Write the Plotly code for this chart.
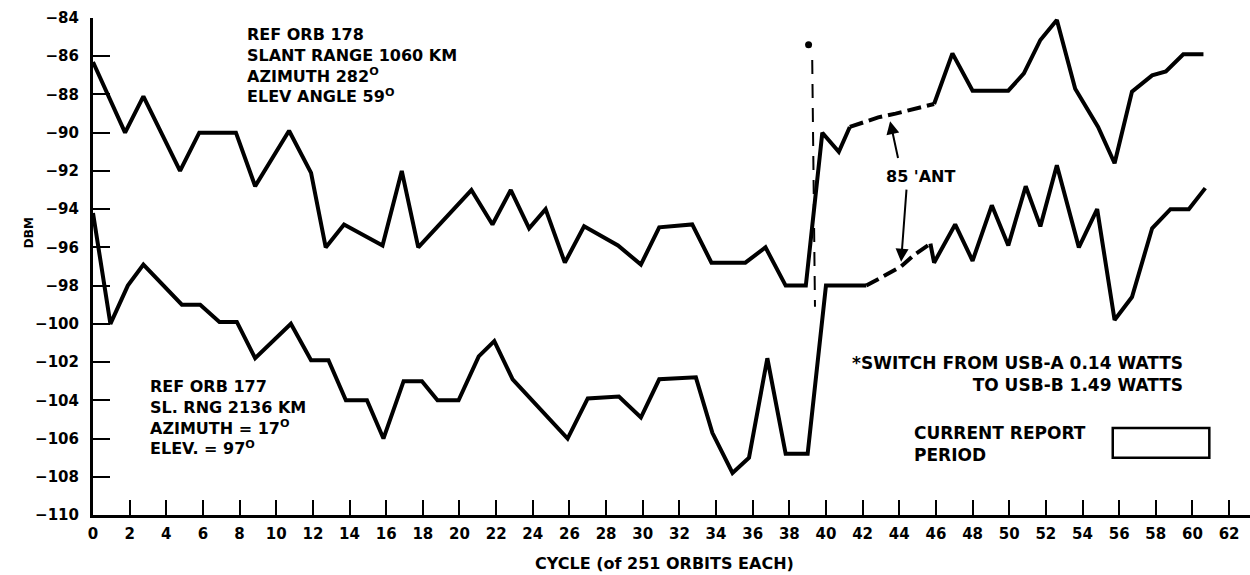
import plotly.graph_objects as go

# ---- REF ORB 178 (upper trace) ----
orb178_cycle = [0, 1.75, 2.75, 4.75, 5.8, 7.8, 8.85, 10.7, 11.9, 12.7, 13.7, 15.8, 16.85, 17.75,
                20.65, 21.8, 22.8, 23.8, 24.7, 25.75, 26.8, 28.65, 29.9, 30.9, 32.7, 33.75, 35.6,
                36.7, 37.8, 38.9, 39.8, 40.7, 41.3]
orb178_dbm = [-86.3, -90.0, -88.1, -92.0, -90.0, -90.0, -92.8, -89.9, -92.1, -96.0, -94.8, -95.9, -92.0, -96.0,
              -93.0, -94.8, -93.0, -95.0, -94.0, -96.8, -94.9, -95.9, -96.9, -94.95, -94.8, -96.8, -96.8,
              -96.0, -98.0, -98.0, -90.0, -91.0, -89.7]
orb178_gap_cycle = [41.3, 42.85, 43.8, 45.0, 45.9]
orb178_gap_dbm = [-89.7, -89.2, -89.0, -88.7, -88.5]
orb178_late_cycle = [45.9, 46.9, 48.0, 49.95, 50.8, 51.7, 52.6, 53.6, 54.85, 55.75, 56.7, 57.8, 58.55, 59.5, 60.6]
orb178_late_dbm = [-88.5, -85.85, -87.8, -87.8, -86.9, -85.15, -84.1, -87.7, -89.7, -91.6, -87.85, -87.0, -86.8,
                   -85.9, -85.9]

# ---- REF ORB 177 (lower trace) ----
orb177_cycle = [0, 0.95, 1.9, 2.75, 4.85, 5.85, 6.9, 7.85, 8.85, 10.8, 11.9, 12.85, 13.8, 14.95, 15.85,
                16.95, 17.95, 18.8, 19.95, 21.05, 21.9, 22.9, 25.9, 27.0, 28.7, 29.9, 30.9, 32.9, 33.8,
                34.9, 35.8, 36.8, 37.8, 39.0, 40.0, 42.2]
orb177_dbm = [-94.2, -100.0, -98.0, -96.9, -99.0, -99.0, -99.9, -99.9, -101.8, -100.0, -101.9, -101.9, -104.0,
              -104.0, -106.0, -103.0, -103.0, -104.0, -104.0, -101.7, -100.9, -102.9, -106.0, -103.9, -103.8,
              -104.9, -102.9, -102.8, -105.7, -107.8, -107.0, -101.8, -106.8, -106.8, -98.0, -98.0]
orb177_gap_cycle = [42.2, 43.2, 44.1, 44.8, 45.7]
orb177_gap_dbm = [-98.0, -97.5, -97.0, -96.4, -95.8]
orb177_late_cycle = [45.7, 45.9, 47.05, 48.0, 49.05, 49.95, 50.9, 51.7, 52.6, 53.8, 54.8, 55.75, 56.7, 57.8,
                     58.8, 59.8, 60.7]
orb177_late_dbm = [-95.8, -96.8, -94.8, -96.7, -93.8, -95.9, -92.8, -94.9, -91.7, -96.0, -94.0, -99.8, -98.6,
                   -95.0, -94.0, -94.0, -92.9]

# transmitter switch marker
switch_cycle = [39.25, 39.4]
switch_dbm = [-86.2, -99.1]
switch_dot = (39.05, -85.4)

x_ticks = list(range(0, 63, 2))
y_ticks = list(range(-110, -83, 2))

FONT = "DejaVu Sans"
INK = "black"

fig = go.Figure()

solid = dict(color=INK, width=4)
dashed = dict(color=INK, width=4, dash="14px,6px")

for cx, cy, ln in [
    (orb178_cycle, orb178_dbm, solid),
    (orb178_gap_cycle, orb178_gap_dbm, dashed),
    (orb178_late_cycle, orb178_late_dbm, solid),
    (orb177_cycle, orb177_dbm, solid),
    (orb177_gap_cycle, orb177_gap_dbm, dashed),
    (orb177_late_cycle, orb177_late_dbm, solid),
]:
    fig.add_trace(go.Scatter(x=cx, y=cy, mode="lines", line=ln, hoverinfo="skip"))

fig.add_trace(go.Scatter(x=switch_cycle, y=switch_dbm, mode="lines",
                         line=dict(color=INK, width=2, dash="14px,10px")))
fig.add_trace(go.Scatter(x=[switch_dot[0]], y=[switch_dot[1]], mode="markers",
                         marker=dict(color=INK, size=7)))

block_font = dict(family=FONT, size=16, color=INK, weight="bold")
note_font = dict(family=FONT, size=17, color=INK, weight="bold")

annotations = [
    dict(x=8.3, y=-84.25, xanchor="left", yanchor="top", align="left", font=block_font,
         text="REF ORB 178<br>SLANT RANGE 1060 KM<br>AZIMUTH 282<sup>O</sup><br>ELEV ANGLE 59<sup>O</sup>"),
    dict(x=3.0, y=-102.65, xanchor="left", yanchor="top", align="left", font=block_font,
         text="REF ORB 177<br>SL. RNG 2136 KM<br>AZIMUTH = 17<sup>O</sup><br>ELEV. = 97<sup>O</sup>"),
    dict(x=45.2, y=-92.3, xanchor="center", yanchor="middle", font=block_font, text="85 'ANT"),
    dict(x=59.6, y=-101.4, xanchor="right", yanchor="top", align="right", font=note_font,
         text="*SWITCH FROM USB-A 0.14 WATTS<br>TO USB-B 1.49 WATTS"),
    dict(x=44.7, y=-105.1, xanchor="left", yanchor="top", align="left", font=note_font,
         text="CURRENT REPORT<br>PERIOD"),
    dict(xref="paper", yref="paper", x=-0.0553, y=0.567, xanchor="center", yanchor="middle",
         textangle=-90, font=dict(family=FONT, size=12, color=INK, weight="bold"), text="DBM"),
    dict(xref="x", yref="paper", x=31.2, y=-0.0966, xanchor="center", yanchor="middle",
         font=dict(family=FONT, size=16, color=INK, weight="bold"), text="CYCLE (of 251 ORBITS EACH)"),
]
for a in annotations:
    a["showarrow"] = False

# arrows spanning the antenna gap
for (hx, hy), (tx, ty) in [((43.5, -89.4), (43.95, -91.4)), ((44.1, -96.75), (44.4, -92.9))]:
    annotations.append(dict(x=hx, y=hy, ax=tx, ay=ty, xref="x", yref="y", axref="x", ayref="y",
                            text="", showarrow=True, arrowhead=2, arrowsize=1.3, arrowwidth=2,
                            arrowcolor=INK))

fig.update_layout(
    width=1250, height=575,
    margin=dict(l=93, r=0, t=18, b=60),
    paper_bgcolor="white", plot_bgcolor="white",
    showlegend=False,
    annotations=annotations,
    shapes=[dict(type="rect", xref="x", yref="y", x0=55.65, x1=60.92, y0=-107.0, y1=-105.45,
                 line=dict(color=INK, width=2.5), fillcolor="white")],
)
fig.update_xaxes(
    range=[0, 63.14], tickvals=x_ticks, ticks="inside", ticklen=15, tickwidth=2, tickcolor=INK,
    showline=True, linewidth=3, linecolor=INK, showgrid=False, zeroline=False,
    tickfont=dict(family=FONT, size=15, color=INK, weight="bold"), ticklabelstandoff=3,
)
fig.update_yaxes(
    range=[-110, -84], tickvals=y_ticks, ticks="inside", ticklen=17, tickwidth=2, tickcolor=INK,
    showline=True, linewidth=3, linecolor=INK, showgrid=False, zeroline=False,
    tickfont=dict(family=FONT, size=15, color=INK, weight="bold"), ticklabelstandoff=8,
)

fig.write_html("out.html")
